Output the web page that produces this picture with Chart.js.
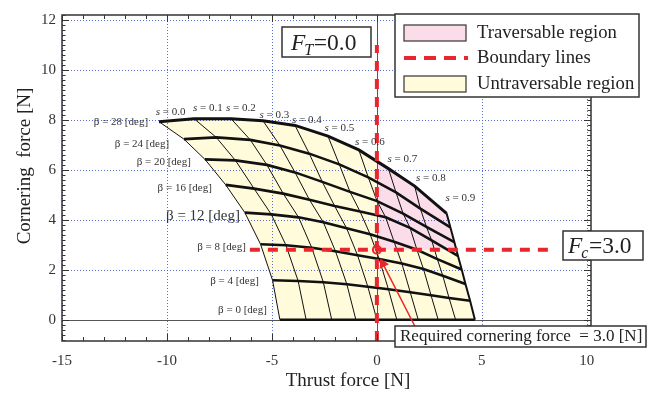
<!DOCTYPE html>
<html><head><meta charset="utf-8">
<script src="https://cdn.jsdelivr.net/npm/chart.js@4.4.1/dist/chart.umd.min.js"></script>
<style>html,body{margin:0;padding:0;background:#fff}#wrap{width:657px;height:397px;position:relative}</style>
</head><body><div id="wrap"><canvas id="c" width="657" height="397"></canvas></div>
<script>
// ---------- data ----------
const betaAngles = [28, 24, 20, 16, 12, 8, 4, 0];                 // slip angle [deg]
const slipRatios = [0.0, 0.1, 0.2, 0.3, 0.4, 0.5, 0.6, 0.7, 0.8, 0.9];
const xTickValues = [-15, -10, -5, 0, 5, 10];
const yTickValues = [0, 2, 4, 6, 8, 10, 12];

// thrust force (x) and cornering force (y) for each beta row, one value per slip ratio
const thrustB28 = [-10.38, -8.71, -6.95, -5.43, -3.90, -2.33, -0.86, 0.55, 1.80, 3.32];
const cornerB28 = [7.93, 8.05, 8.05, 7.97, 7.78, 7.35, 6.80, 6.05, 5.35, 4.26];
const thrustB24 = [-9.19, -7.65, -6.03, -4.62, -3.22, -1.79, -0.41, 0.91, 2.07, 3.50];
const cornerB24 = [7.23, 7.30, 7.20, 6.98, 6.65, 6.22, 5.70, 5.10, 4.45, 3.70];
const thrustB20 = [-8.19, -6.74, -5.24, -3.90, -2.60, -1.28, 0.01, 1.25, 2.36, 3.69];
const cornerB20 = [6.42, 6.38, 6.20, 5.90, 5.52, 5.12, 4.75, 4.25, 3.72, 3.11];
const thrustB16 = [-7.20, -5.85, -4.46, -3.21, -2.01, -0.80, 0.42, 1.58, 2.61, 3.86];
const cornerB16 = [5.40, 5.25, 5.05, 4.80, 4.55, 4.33, 4.10, 3.68, 3.18, 2.56];
const thrustB12 = [-6.29, -5.03, -3.73, -2.55, -1.44, -0.32, 0.82, 1.91, 2.88, 4.04];
const cornerB12 = [4.29, 4.22, 4.10, 3.90, 3.66, 3.42, 3.12, 2.80, 2.43, 2.01];
const thrustB8  = [-5.54, -4.33, -3.10, -1.97, -0.92, 0.11, 1.19, 2.22, 3.14, 4.22];
const cornerB8  = [3.02, 2.98, 2.88, 2.74, 2.58, 2.43, 2.25, 2.03, 1.76, 1.43];
const thrustB4  = [-4.97, -3.75, -2.55, -1.43, -0.43, 0.55, 1.59, 2.58, 3.44, 4.44];
const cornerB4  = [1.58, 1.55, 1.50, 1.42, 1.32, 1.22, 1.10, 0.98, 0.87, 0.76];
const thrustB0  = [-4.62, -3.37, -2.15, -1.00, 0.00, 0.95, 1.97, 2.92, 3.75, 4.67];
const cornerB0  = [0, 0, 0, 0, 0, 0, 0, 0, 0, 0];

// traversable region (F_T >= 0 and F_C >= boundary) vertices
const traversableX = [0, 0, 0.55, 1.80, 3.32, 3.50, 3.69, 3.79];
const traversableY = [2.8, 6.34, 6.05, 5.35, 4.26, 3.70, 3.11, 2.8];

// boundary lines
const boundaryFt = 0.0;
const boundaryFc = 2.8;
const vBoundaryY = [-0.85, 11.0];
const hBoundaryX = [-6.05, 8.48];
const arrowX = [1.81, 0.29];
const arrowY = [-0.26, 2.24];

// ---------- styles ----------
const RED = '#e8262d';
const YELLOW = '#fffbdb';
const PINK = '#fadde8';
const SERIF = '"Liberation Serif", "Times New Roman", serif';

const rowsX = [thrustB28, thrustB24, thrustB20, thrustB16, thrustB12, thrustB8, thrustB4, thrustB0];
const rowsY = [cornerB28, cornerB24, cornerB20, cornerB16, cornerB12, cornerB8, cornerB4, cornerB0];
const last = slipRatios.length - 1;

// outline of the whole (untraversable) region
const outline = [];
for (let i = 0; i <= last; i++) outline.push({x: rowsX[0][i], y: rowsY[0][i]});
for (let r = 1; r < rowsX.length; r++) outline.push({x: rowsX[r][last], y: rowsY[r][last]});
for (let i = last - 1; i >= 0; i--) outline.push({x: rowsX[rowsX.length-1][i], y: rowsY[rowsY.length-1][i]});
for (let r = rowsX.length - 2; r >= 1; r--) outline.push({x: rowsX[r][0], y: rowsY[r][0]});

const datasets = [];
datasets.push({label: 'Untraversable region', data: outline, showLine: true, fill: 'shape',
  backgroundColor: YELLOW, borderColor: 'rgba(0,0,0,0)', borderWidth: 1, pointRadius: 0, order: 20});
datasets.push({label: 'Traversable region', data: traversableX.map((x, i) => ({x, y: traversableY[i]})),
  showLine: true, fill: 'shape', backgroundColor: PINK, borderColor: 'rgba(0,0,0,0)', borderWidth: 1,
  pointRadius: 0, order: 19});
// slip-ratio lines (thin)
slipRatios.forEach((s, i) => {
  datasets.push({label: 's=' + s, data: rowsX.map((row, r) => ({x: row[i], y: rowsY[r][i]})),
    showLine: true, fill: false, borderColor: '#111', borderWidth: (i === last ? 2 : 1),
    pointRadius: 0, order: 10});
});
// beta lines (thick)
betaAngles.forEach((b, r) => {
  datasets.push({label: 'beta=' + b, data: rowsX[r].map((x, i) => ({x, y: rowsY[r][i]})),
    showLine: true, fill: false, borderColor: '#111', borderWidth: (r === 0 ? 3 : 2.6),
    pointRadius: 0, order: 9});
});
datasets.push({label: 'vBoundary', data: vBoundaryY.map(y => ({x: boundaryFt, y})), showLine: true,
  borderColor: RED, borderWidth: 4, borderDash: [10, 8], pointRadius: 0, order: 5});
datasets.push({label: 'hBoundary', data: hBoundaryX.map(x => ({x, y: boundaryFc})), showLine: true,
  borderColor: RED, borderWidth: 4, borderDash: [10, 8], pointRadius: 0, order: 5});
datasets.push({label: 'required', data: [{x: boundaryFt, y: boundaryFc}], showLine: false,
  pointRadius: 4, pointBorderWidth: 2, pointBorderColor: RED, pointBackgroundColor: 'rgba(255,255,255,0)', order: 4});
datasets.push({label: 'arrow', data: arrowX.map((x, i) => ({x, y: arrowY[i]})), showLine: true,
  borderColor: RED, borderWidth: 1.5, pointRadius: [0, 4.5], pointStyle: 'triangle',
  pointRotation: -26.6, pointBackgroundColor: RED, pointBorderColor: RED, order: 3});

// ---------- annotation text ----------
const betaLabels = [
  {t: 'β = 28 [deg]', x: -10.90, y: 7.90, size: 11},
  {t: 'β = 24 [deg]', x: -9.90, y: 7.04, size: 11},
  {t: 'β = 20 [deg]', x: -8.86, y: 6.30, size: 11},
  {t: 'β = 16 [deg]', x: -7.86, y: 5.29, size: 11},
  {t: 'β = 12 [deg]', x: -6.52, y: 4.15, size: 15},
  {t: 'β = 8 [deg]', x: -6.24, y: 2.90, size: 11},
  {t: 'β = 4 [deg]', x: -5.62, y: 1.54, size: 11},
  {t: 'β = 0 [deg]', x: -5.24, y: 0.40, size: 11}
];
const sLabels = [
  {t: '0.0', x: -9.83, y: 8.33}, {t: '0.1', x: -8.05, y: 8.48}, {t: '0.2', x: -6.48, y: 8.48},
  {t: '0.3', x: -4.88, y: 8.21}, {t: '0.4', x: -3.33, y: 7.98}, {t: '0.5', x: -1.79, y: 7.66},
  {t: '0.6', x: -0.33, y: 7.12}, {t: '0.7', x: 1.21, y: 6.42}, {t: '0.8', x: 2.57, y: 5.68},
  {t: '0.9', x: 3.98, y: 4.89}
];

function drawGridLines(chart) {
  const {ctx, chartArea: a, scales: {x, y}} = chart;
  ctx.save();
  ctx.lineWidth = 1;
  ctx.strokeStyle = 'rgba(70,95,205,0.9)';
  ctx.setLineDash([1, 2]);
  xTickValues.forEach(v => {
    if (v === 0) return;
    const px = Math.round(x.getPixelForValue(v)) + 0.5;
    ctx.beginPath(); ctx.moveTo(px, a.top); ctx.lineTo(px, a.bottom); ctx.stroke();
  });
  yTickValues.forEach(v => {
    if (v === 0) return;
    const py = Math.round(y.getPixelForValue(v)) + 0.5;
    ctx.beginPath(); ctx.moveTo(a.left, py); ctx.lineTo(a.right, py); ctx.stroke();
  });
  ctx.setLineDash([]);
  ctx.strokeStyle = '#555';
  const x0 = Math.round(x.getPixelForValue(0)) + 0.5, y0 = Math.round(y.getPixelForValue(0)) + 0.5;
  ctx.beginPath(); ctx.moveTo(x0, a.top); ctx.lineTo(x0, a.bottom); ctx.stroke();
  ctx.beginPath(); ctx.moveTo(a.left, y0); ctx.lineTo(a.right, y0); ctx.stroke();
  ctx.restore();
}

function boxed(ctx, x, y, w, h) {
  ctx.fillStyle = '#fff';
  ctx.fillRect(x, y, w, h);
  ctx.strokeStyle = '#333';
  ctx.lineWidth = 1.5;
  ctx.strokeRect(x, y, w, h);
}

function subscripted(ctx, x, base, main, sub, rest, size) {
  ctx.fillStyle = '#222';
  ctx.textBaseline = 'alphabetic';
  ctx.textAlign = 'left';
  ctx.font = 'italic ' + size + 'px ' + SERIF;
  ctx.fillText(main, x, base);
  x += ctx.measureText(main).width - 1;
  ctx.font = 'italic ' + Math.round(size * 0.68) + 'px ' + SERIF;
  ctx.fillText(sub, x, base + size * 0.22);
  x += ctx.measureText(sub).width + 0.5;
  ctx.font = size + 'px ' + SERIF;
  ctx.fillText(rest, x, base);
}

const overlay = {
  id: 'overlay',
  afterDatasetDraw(chart, args) {
    if (chart.data.datasets[args.index].label === 'Traversable region') drawGridLines(chart);
  },
  afterDraw(chart) {
    const {ctx, chartArea: a, scales: {x, y}} = chart;
    ctx.save();
    // frame
    ctx.strokeStyle = '#333';
    ctx.lineWidth = 1.5;
    ctx.strokeRect(a.left, a.top, a.right - a.left, a.bottom - a.top);
    // inward ticks
    ctx.lineWidth = 1;
    for (let v = -15; v <= 10; v++) {
      const px = Math.round(x.getPixelForValue(v)) + 0.5;
      const len = v % 5 === 0 ? 7 : 4;
      ctx.beginPath();
      ctx.moveTo(px, a.bottom); ctx.lineTo(px, a.bottom - len);
      ctx.moveTo(px, a.top); ctx.lineTo(px, a.top + len);
      ctx.stroke();
    }
    for (let k = -4; k <= 61; k++) {
      const py = Math.round(y.getPixelForValue(k * 0.2)) + 0.5;
      const len = k % 10 === 0 ? 7 : 3.5;
      ctx.beginPath();
      ctx.moveTo(a.left, py); ctx.lineTo(a.left + len, py);
      ctx.moveTo(a.right, py); ctx.lineTo(a.right - len, py);
      ctx.stroke();
    }
    // axis titles
    ctx.fillStyle = '#222';
    ctx.textAlign = 'center';
    ctx.textBaseline = 'middle';
    ctx.font = '19px ' + SERIF;
    ctx.fillText('Thrust force [N]', 348, 381);
    ctx.save();
    ctx.translate(25, 166);
    ctx.rotate(-Math.PI / 2);
    ctx.fillText('Cornering  force [N]', 0, 0);
    ctx.restore();
    // beta labels
    ctx.fillStyle = '#333';
    ctx.textAlign = 'right';
    betaLabels.forEach(l => {
      ctx.font = l.size + 'px ' + SERIF;
      ctx.fillText(l.t, x.getPixelForValue(l.x), y.getPixelForValue(l.y));
    });
    // s labels
    sLabels.forEach(l => {
      const cx = x.getPixelForValue(l.x), cy = y.getPixelForValue(l.y);
      ctx.font = 'italic 11px ' + SERIF;
      const w1 = ctx.measureText('s').width;
      ctx.font = '11px ' + SERIF;
      const rest = ' = ' + l.t;
      const w2 = ctx.measureText(rest).width;
      const sx = cx - (w1 + w2) / 2;
      ctx.textAlign = 'left';
      ctx.font = 'italic 11px ' + SERIF;
      ctx.fillText('s', sx, cy);
      ctx.font = '11px ' + SERIF;
      ctx.fillText(rest, sx + w1, cy);
    });
    // F_T box
    boxed(ctx, 282, 27, 89, 30);
    subscripted(ctx, 291, 50, 'F', 'T', '=0.0', 23.5);
    // F_c box
    boxed(ctx, 563, 231, 80, 29);
    subscripted(ctx, 568, 253, 'F', 'c', '=3.0', 23.5);
    // required force box
    boxed(ctx, 395, 326, 251, 21);
    ctx.fillStyle = '#222';
    ctx.textAlign = 'left';
    ctx.textBaseline = 'middle';
    ctx.font = '17px ' + SERIF;
    ctx.fillText('Required cornering force  = 3.0 [N]', 400, 337);
    // legend
    boxed(ctx, 395, 14, 244, 83);
    ctx.lineWidth = 1.2;
    ctx.fillStyle = PINK; ctx.fillRect(404, 25, 62, 16); ctx.strokeRect(404, 25, 62, 16);
    ctx.fillStyle = YELLOW; ctx.fillRect(404, 76, 62, 16); ctx.strokeRect(404, 76, 62, 16);
    ctx.strokeStyle = RED; ctx.lineWidth = 4; ctx.setLineDash([12, 8]);
    ctx.beginPath(); ctx.moveTo(404, 58); ctx.lineTo(468, 58); ctx.stroke();
    ctx.setLineDash([]);
    ctx.fillStyle = '#222';
    ctx.font = '18.7px ' + SERIF;
    ctx.textBaseline = 'middle';
    ctx.fillText('Traversable region', 477, 33);
    ctx.fillText('Boundary lines', 477, 58);
    ctx.fillText('Untraversable region', 477, 84);
    ctx.restore();
  }
};

new Chart(document.getElementById('c'), {
  type: 'scatter',
  data: {datasets},
  plugins: [overlay],
  options: {
    responsive: false,
    animation: false,
    events: [],
    layout: {padding: {left: 0, right: 66, top: 7, bottom: 0}},
    plugins: {legend: {display: false}, tooltip: {enabled: false}},
    elements: {line: {tension: 0}},
    scales: {
      x: {
        type: 'linear', position: 'bottom', min: -15, max: 10.2,
        afterFit(s) { s.height = 56; },
        afterBuildTicks(s) { s.ticks = xTickValues.map(v => ({value: v})); },
        grid: {display: false, drawTicks: false},
        border: {display: false},
        ticks: {font: {family: SERIF, size: 15}, color: '#333', padding: 11, maxRotation: 0, autoSkip: false}
      },
      y: {
        type: 'linear', position: 'left', min: -0.85, max: 12.2,
        afterFit(s) { s.width = 62; },
        afterBuildTicks(s) { s.ticks = yTickValues.map(v => ({value: v})); },
        grid: {display: false, drawTicks: false},
        border: {display: false},
        ticks: {font: {family: SERIF, size: 15}, color: '#333', padding: 6, autoSkip: false}
      }
    }
  }
});
</script>
</body></html>
